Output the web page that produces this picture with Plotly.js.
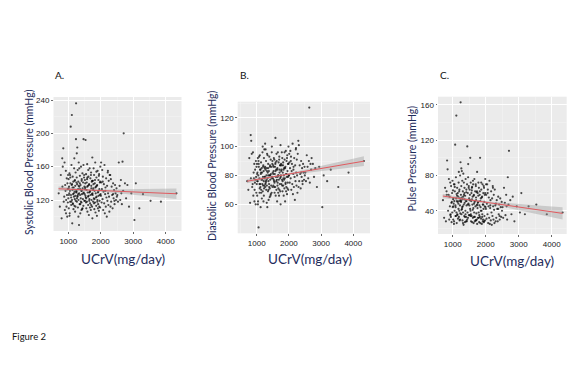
<!DOCTYPE html>
<html>
<head>
<meta charset="utf-8">
<script src="https://cdn.plot.ly/plotly-3.0.1.min.js"></script>
<style>html,body{margin:0;padding:0;background:#fff;}#chart{width:578px;height:378px;}</style>
</head>
<body>
<div id="chart"></div>
<script>
// UCrV (mg/day) for each subject (shared by all three panels)
const ucrv = [
705,740,770,795,814,830,846,860,875,885,895,905,915,925,935,945,952,960,968,975,982,988,994,820,930,
1002,1008,1015,1022,1028,1035,1042,1050,1058,1065,1075,1082,1090,1098,1105,1110,1115,1122,1128,1135,1140,1148,1155,1160,1168,1175,1180,1188,1195,1200,1205,1210,1215,1220,1225,1230,1237,1240,1245,1250,1012,1038,1062,1088,1118,1142,1172,1198,1222,1248,1018,1056,1094,1132,1186,
1255,1260,1265,1272,1277,1283,1290,1296,1302,1308,1315,1322,1330,1336,1342,1350,1357,1364,1370,1378,1385,1392,1400,1407,1414,1420,1428,1435,1442,1450,1457,1464,1470,1478,1485,1492,1498,1262,1288,1312,1338,1362,1388,1412,1438,1462,1488,1268,1318,1368,1418,1468,1305,1355,1405,
1505,1512,1518,1525,1532,1540,1547,1555,1562,1568,1575,1582,1590,1597,1604,1612,1620,1627,1634,1642,1650,1657,1664,1672,1680,1687,1694,1702,1710,1717,1724,1732,1740,1746,1515,1545,1578,1608,1638,1668,1698,1728,1522,1552,1585,1615,1645,1675,1705,1735,1528,1588,1648,1708,1742,
1752,1758,1765,1772,1780,1787,1794,1802,1810,1817,1824,1830,1838,1845,1852,1860,1867,1874,1882,1890,1897,1904,1912,1920,1927,1934,1942,1950,1957,1964,1972,1980,1987,1994,1762,1792,1822,1852,1882,1912,1942,1972,1775,1805,1835,1865,1895,1925,1955,1985,
2005,2015,2025,2035,2045,2055,2065,2075,2085,2095,2105,2115,2125,2135,2145,2155,2165,2175,2185,2195,2205,2215,2225,2235,2245,2255,2265,2275,2292,2310,2320,2335,2350,2365,2380,2395,2410,2425,2440,2455,2470,2485,2495,2060,2140,2220,2300,2380,2420,2010,
2510,2530,2555,2580,2600,2620,2633,2650,2670,2690,2706,2745,2780,2820,2870,2940,
3037,3080,3188,3300,3534,3852,4330
];
// Systolic blood pressure (mmHg)
const sbp = [
128,112,150,98,170,160,182,118,124,165,108,138,131,155,120,112,146,126,100,140,133,117,150,136,104,
122,145,110,136,128,152,104,131,118,140,208,126,114,162,138,222,120,92,132,148,116,127,142,109,135,124,158,113,130,121,144,106,137,125,153,119,193,236,129,141,134,101,147,123,139,115,128,143,112,131,126,150,118,135,170,
130,147,118,139,183,124,156,111,133,142,120,165,90,128,136,115,149,126,104,138,122,160,131,117,145,127,109,152,134,121,141,113,193,129,147,119,136,176,125,100,158,133,118,143,110,128,150,122,137,115,131,162,127,140,108,
127,144,119,135,192,123,151,110,132,141,118,163,106,129,137,114,148,125,102,139,121,158,130,116,146,126,108,153,134,120,142,112,171,128,133,117,145,124,138,111,150,127,140,122,136,156,119,131,114,143,125,147,129,137,98,
126,143,118,134,158,122,150,109,131,140,117,165,105,128,136,113,147,124,101,138,120,155,129,115,144,125,107,151,133,119,141,111,160,127,132,116,144,123,137,110,149,126,139,121,135,154,118,130,112,142,
125,141,117,133,156,121,148,108,130,139,116,162,104,127,135,112,146,123,100,137,119,153,128,114,143,124,106,150,150,145,118,136,126,110,140,122,132,115,138,128,120,134,124,142,131,155,112,127,119,165,
126,118,165,137,120,144,128,115,166,131,200,140,122,138,112,128,
96,140,110,127,119,118,128
];
// Diastolic blood pressure (mmHg)
const dbp = [
76,70,92,61,108,104,95,72,74,96,66,82,78,88,70,75,84,77,60,90,79,68,86,78,62,
74,88,66,82,76,92,62,80,44,86,93,78,68,94,84,74,72,58,81,89,70,77,85,64,82,74,96,69,79,73,87,62,83,76,92,71,98,73,78,85,81,60,88,74,84,68,77,86,66,79,76,90,71,82,100,
79,86,72,84,98,75,90,70,80,85,73,95,58,78,82,69,88,76,63,83,74,93,80,71,87,77,66,91,81,73,86,68,100,79,88,72,82,102,76,61,94,80,72,86,67,78,90,74,83,70,80,96,77,85,65,
78,87,73,83,92,76,91,68,81,86,72,106,66,79,84,70,90,77,62,85,75,96,80,71,89,77,66,93,82,74,87,69,101,79,81,72,88,76,84,68,91,78,86,75,83,95,73,80,70,87,77,89,79,84,60,
80,88,74,84,96,77,92,69,82,87,73,78,66,80,85,71,91,78,62,86,75,97,81,72,90,79,67,94,83,75,88,70,100,80,83,73,89,77,85,69,92,79,87,76,84,96,74,81,71,88,
80,89,75,85,97,78,93,70,83,88,74,102,67,81,86,72,92,79,63,87,76,98,82,73,91,80,68,95,104,101,76,87,81,71,90,79,85,74,88,82,77,86,80,90,84,99,72,82,76,95,
82,76,94,86,78,90,127,75,88,84,92,88,79,85,72,86,
58,80,76,84,72,82,90
];
// Pulse pressure (mmHg)
const pp = [
52,32,66,28,62,97,87,40,58,76,30,56,45,72,36,33,68,49,27,50,60,38,74,58,35,
44,63,30,54,48,70,28,51,40,62,115,46,34,78,54,148,38,26,51,66,35,50,60,31,56,42,72,33,51,40,64,29,54,46,80,37,95,163,51,58,53,25,67,44,59,36,48,62,30,52,45,70,34,57,84,
50,68,36,55,85,42,74,29,53,62,38,82,24,47,58,34,66,49,27,57,40,76,51,33,64,46,28,70,113,38,60,32,93,48,66,35,54,88,44,26,72,53,36,61,30,47,68,41,56,33,51,78,45,60,28,
46,64,35,52,100,40,72,28,51,60,34,66,27,47,56,32,70,43,26,58,38,76,50,33,62,45,29,68,52,37,61,30,84,47,52,34,63,41,57,28,70,46,58,36,53,74,33,51,29,62,42,67,48,55,25,
43,60,32,50,72,38,66,27,46,58,33,100,26,44,54,31,64,40,25,56,36,70,47,30,60,42,27,66,50,34,58,29,76,44,49,32,62,40,55,28,68,45,57,35,51,72,33,47,28,60,
42,58,31,48,70,36,64,26,45,55,32,74,25,43,52,29,62,38,24,54,34,68,45,30,58,41,26,64,46,48,32,52,42,28,56,36,47,30,54,44,33,50,40,60,46,66,28,42,34,70,
44,32,66,49,35,58,45,30,78,47,108,52,36,56,28,45,
38,60,36,45,47,36,38
];
// Linear fit lines with 95% confidence band
const fitX = [700,1200,1700,2200,2700,3200,3700,4330];
const fitSbp = [133.5,132.7,131.8,131.0,130.2,129.4,128.5,127.5];
const loSbp  = [130.9,131.1,130.6,129.4,127.6,125.7,123.6,121.1];
const hiSbp  = [136.1,134.3,133.0,132.6,132.8,133.1,133.4,133.9];
const fitDbp = [76.0,77.9,79.8,81.7,83.6,85.6,87.5,89.9];
const loDbp  = [74.6,77.0,79.1,80.8,82.2,83.6,84.9,86.5];
const hiDbp  = [77.4,78.8,80.5,82.6,85.0,87.6,90.1,93.3];
const fitPp  = [56.7,54.0,51.3,48.6,45.8,43.1,40.4,37.0];
const loPp   = [54.1,52.4,50.1,47.0,43.2,39.2,35.1,30.0];
const hiPp   = [59.3,55.6,52.5,50.2,48.4,47.0,45.7,44.0];

const xTicks = [1000,2000,3000,4000];
const xTickText = ['1000','2000','3000','4000'];
const sbpTicks = [120,160,200,240];
const sbpTickText = ['120','160','200','240'];
const dbpTicks = [60,80,100,120];
const dbpTickText = ['60','80','100','120'];
const ppTicks = [40,80,120,160];
const ppTickText = ['40','80','120','160'];

const panels = [
  {ax:'', y: sbp, fit: fitSbp, lo: loSbp, hi: hiSbp},
  {ax:'2', y: dbp, fit: fitDbp, lo: loDbp, hi: hiDbp},
  {ax:'3', y: pp, fit: fitPp, lo: loPp, hi: hiPp}
];

const traces = [];
panels.forEach(p => {
  const xa = 'x' + p.ax, ya = 'y' + p.ax;
  traces.push({type:'scatter', mode:'markers', x: ucrv, y: p.y, xaxis: xa, yaxis: ya,
    marker:{size:2.2, color:'rgba(0,0,0,0.7)'}, hoverinfo:'skip'});
  traces.push({type:'scatter', mode:'lines', x: fitX, y: p.lo, xaxis: xa, yaxis: ya,
    line:{width:0, color:'rgba(0,0,0,0)'}, hoverinfo:'skip'});
  traces.push({type:'scatter', mode:'lines', x: fitX, y: p.hi, xaxis: xa, yaxis: ya, fill:'tonexty',
    fillcolor:'rgba(153,153,153,0.4)', line:{width:0, color:'rgba(0,0,0,0)'}, hoverinfo:'skip'});
  traces.push({type:'scatter', mode:'lines', x: fitX, y: p.fit, xaxis: xa, yaxis: ya,
    line:{width:1, color:'#e05a5f'}, hoverinfo:'skip'});
});

const tickFont = {family:'Liberation Sans, Arial, sans-serif', size:8, color:'#1a1a24'};
function xAxis(domain, range, anchor) {
  return {domain, range, anchor, tickmode:'array', tickvals: xTicks, ticktext: xTickText,
    ticks:'outside', ticklen:2, tickcolor:'#444', tickwidth:0.8,
    showgrid:true, gridcolor:'#ffffff', gridwidth:1, zeroline:false, showline:false,
    minor:{dtick:500, tick0:500, showgrid:true, gridcolor:'#f6f6f6', gridwidth:0.5, ticks:''},
    tickfont: tickFont, fixedrange:true};
}
function yAxis(domain, range, ticks, text, minorD, anchor) {
  return {domain, range, anchor, tickmode:'array', tickvals: ticks, ticktext: text,
    ticks:'outside', ticklen:1.5, tickcolor:'#444', tickwidth:0.8,
    showgrid:true, gridcolor:'#ffffff', gridwidth:1, zeroline:false, showline:false,
    minor:{dtick:minorD, tick0:0, showgrid:true, gridcolor:'#f6f6f6', gridwidth:0.5, ticks:''},
    tickfont: tickFont, fixedrange:true};
}

const W = 578, H = 378;
const titleColor = '#1f2d5c';
const font = 'Lato, "Open Sans", sans-serif';
function ann(text, x, y, size, angle, color, xanchor) {
  return {text, x: x / W, y: 1 - y / H, xref:'paper', yref:'paper', showarrow:false,
    xanchor: xanchor || 'center', yanchor:'middle', textangle: angle || 0,
    font:{family: font, size, color}};
}

const layout = {
  width: W, height: H,
  margin:{l:0, r:0, t:0, b:0},
  paper_bgcolor:'#ffffff', plot_bgcolor:'#ebebeb',
  showlegend:false,
  xaxis: xAxis([53.5/W, 181.5/W], [545, 4486], 'y'),
  yaxis: yAxis([1-231/H, 1-97/H], [82.8, 243.6], sbpTicks, sbpTickText, 20, 'x'),
  xaxis2: xAxis([237.7/W, 370/W], [410, 4519], 'y2'),
  yaxis2: yAxis([1-233.3/H, 1-101.7/H], [39.9, 131.1], dbpTicks, dbpTickText, 10, 'x2'),
  xaxis3: xAxis([438/W, 566.7/W], [555, 4455], 'y3'),
  yaxis3: yAxis([1-234/H, 1-96.7/H], [13.6, 169.4], ppTicks, ppTickText, 20, 'x3'),
  annotations: [
    ann('A.', 53, 75, 10, 0, '#111', 'left'),
    ann('B.', 238, 75, 10, 0, '#111', 'left'),
    ann('C.', 438, 75, 10, 0, '#111', 'left'),
    ann('Systolic Blood Pressure (mmHg)', 28.5, 162.5, 10.5, -90, titleColor),
    ann('Diastolic Blood Pressure (mmHg)', 211.5, 165.5, 10.5, -90, titleColor),
    ann('Pulse Pressure (mmHg)', 411.5, 159, 10.5, -90, titleColor),
    ann('UCrV(mg/day)', 123, 259, 13.5, 0, titleColor),
    ann('UCrV(mg/day)', 310, 259, 13.5, 0, titleColor),
    ann('UCrV(mg/day)', 511.7, 261, 13.5, 0, titleColor),
    ann('Figure 2', 10, 336, 9.5, 0, '#111', 'left')
  ]
};

Plotly.newPlot('chart', traces, layout, {staticPlot:true, displayModeBar:false});
</script>
</body>
</html>
